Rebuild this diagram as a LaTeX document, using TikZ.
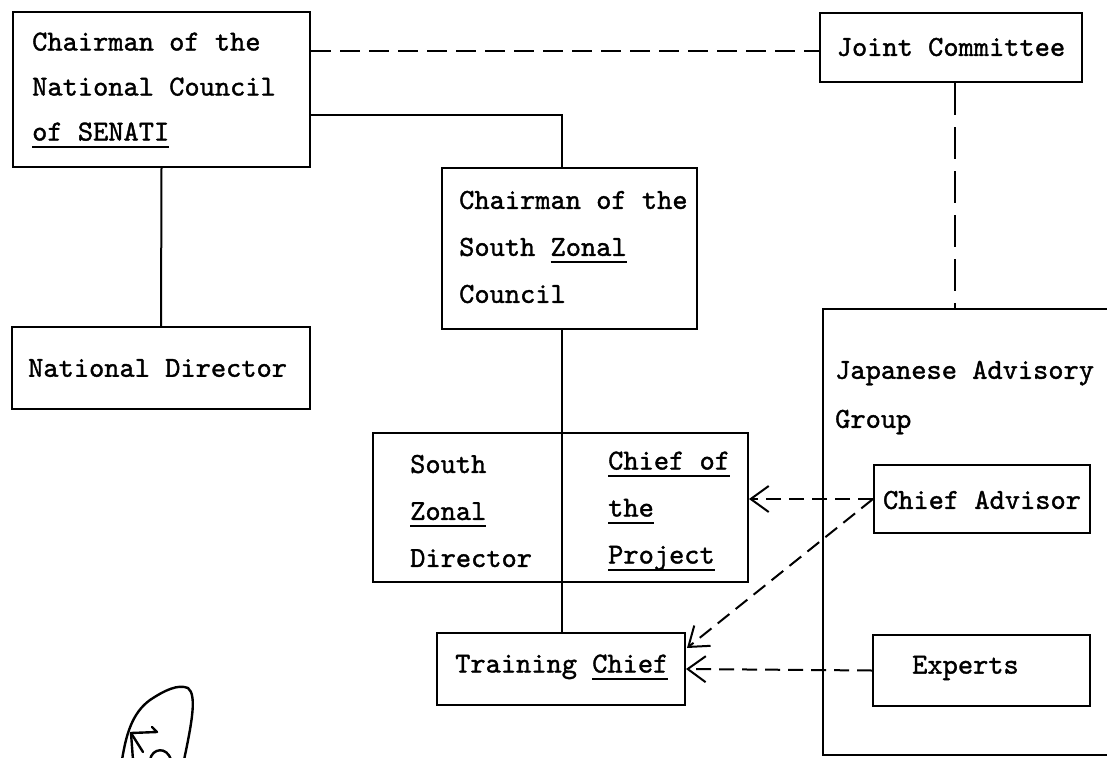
\documentclass[tikz,border=0pt]{standalone}
\usepackage{fontspec}
\usetikzlibrary{arrows.meta,calc}
% typewriter face: Latin Modern Mono, struck a little heavier
\newfontfamily\typewriter[FakeBold=1.3]{lmmono10-regular.otf}
% underline at a fixed depth, as a typewriter strikes it
\newcommand\typeul[1]{\setbox0\hbox{#1}\rlap{\rule[-7pt]{\wd0}{2pt}}\box0}
\begin{document}
\begin{tikzpicture}[x=1pt,y=-1pt,
  box/.style={draw,line width=2pt,rectangle,inner sep=0pt},
  label/.style={inner sep=0pt,align=left,font=\typewriter\fontsize{29}{45}\selectfont},
  wire/.style={line width=2pt},
  link/.style={line width=2pt,dash pattern=on 20pt off 9pt},
  vlink/.style={line width=2pt,dash pattern=on 32pt off 12pt},
  advice/.style={line width=2pt,dash pattern=on 15pt off 8pt,
    -{Straight Barb[length=18pt,width=26pt,line width=2pt]}},
  pen/.style={line width=2.4pt,line cap=round,line join=round}]
\useasboundingbox (0,0) rectangle (1107,757);
\clip (0,0) rectangle (1107,757);

% boxes
\node[box,minimum width=297pt,minimum height=155pt] (A) at (161.5,89.5) {};
\node[box,minimum width=262pt,minimum height=69pt] (JC) at (951,47.5) {};
\node[box,minimum width=255pt,minimum height=161pt] (B) at (569.5,248.5) {};
\node[box,minimum width=298pt,minimum height=82pt] (ND) at (161,368) {};
\node[box,minimum width=375pt,minimum height=149pt] (C) at (560.5,507.5) {};
\node[box,minimum width=248pt,minimum height=72pt] (TC) at (561,669) {};
\node[box,minimum width=330pt,minimum height=446pt] (G) at (988,532) {};
\node[box,minimum width=216pt,minimum height=68pt] (CA) at (982,499) {};
\node[box,minimum width=217pt,minimum height=71pt] (EX) at (981.5,670.5) {};

% texts
\node[label,anchor=west] (A-t) at (32,90) {Chairman of the\\National Council\\\typeul{of SENATI}};
\node[label] (JC-t) at (951,47) {Joint Committee};
\node[label,anchor=west,font=\typewriter\fontsize{29}{47}\selectfont] (B-t) at (459,247) {Chairman of the\\South \typeul{Zonal}\\Council};
\node[label,anchor=west] (ND-t) at (28,368) {National Director};
\node[label,anchor=west,font=\typewriter\fontsize{29}{47}\selectfont] (C-l) at (410,511) {South\\\typeul{Zonal}\\Director};
\node[label,anchor=west,font=\typewriter\fontsize{29}{47}\selectfont] (C-r) at (608,511) {\typeul{Chief of}\\\typeul{the}\\\typeul{Project}};
\node[label,anchor=west] (TC-t) at (455,667) {Training \typeul{Chief}};
\node[label,anchor=west,font=\typewriter\fontsize{29}{49}\selectfont] (G-t) at (835,397.5) {Japanese Advisory\\Group};
\node[label] (CA-t) at (982,500) {Chief Advisor};
\node[label,anchor=west] (EX-t) at (912,668) {Experts};

% helper coordinates for the line runs
\coordinate (spine) at (562,0);
\coordinate (lvl) at (0,115);
\coordinate (dsh) at (0,51);
\coordinate (jcx) at (955,0);

% solid lines of authority
\draw[wire] (A.east |- lvl) -| (spine |- B.north);
\draw[wire] (A.south) -- (ND.north);
\draw[wire] (spine |- B.south) -- (spine |- C.north);
\draw[wire] (spine |- C.north) -- (spine |- C.south);
\draw[wire] (spine |- C.south) -- (spine |- TC.north);

% dashed links of coordination
\draw[link] (A.east |- dsh) -- (JC.west |- dsh);
\draw[vlink] (jcx |- JC.south) -- (jcx |- G.north);

% advice arrows
\draw[advice] (CA.west) -- (C.east |- CA.west);
\draw[advice] (CA.west) -- ($(TC.east)+(1,-21)$);
\draw[advice] (EX.west) -- (TC.east);

% handwritten initials
\draw[pen] (122,760) .. controls (126,735) and (132,713) .. (150,700)
  .. controls (165,690) and (178,684) .. (188,688)
  .. controls (197,695) and (192,722) .. (184,760);
\draw[pen] (133,760) -- (131,733) -- (157,732) -- (152,727);
\draw[pen] (131,733) -- (143,752);
\draw[pen] (150,760) .. controls (152,748) and (167,746) .. (171,760);
\end{tikzpicture}
\end{document}
